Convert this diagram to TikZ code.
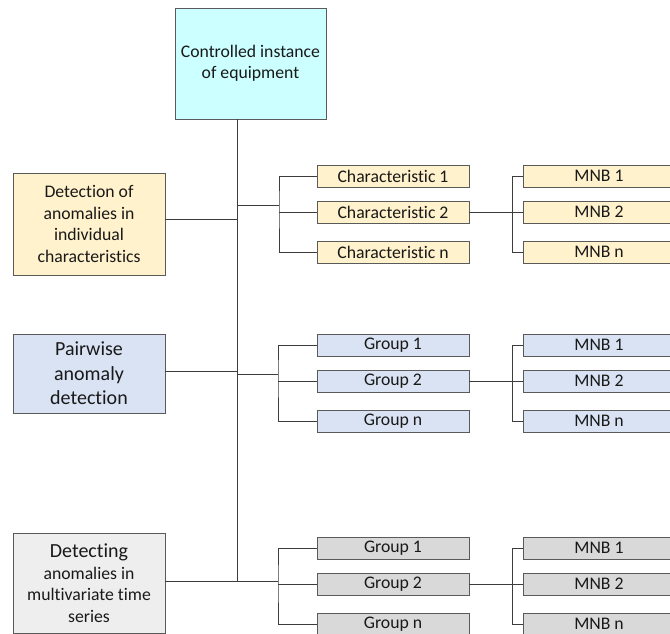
\documentclass[tikz,border=0pt]{standalone}
\usepackage{fontspec}
\setmainfont{Carlito}[Ligatures=NoCommon]
\usetikzlibrary{calc}

\definecolor{clrtop}{HTML}{CCFFFF}
\definecolor{clrchar}{HTML}{FFF2CC}
\definecolor{clrpair}{HTML}{DAE3F3}
\definecolor{clrmulti}{HTML}{EEEEEE}
\definecolor{clrgrp}{HTML}{D9D9D9}
\definecolor{clredge}{HTML}{5A5A5A}
\definecolor{clrwire}{HTML}{3C3C3C}

\def\boxfont{\fontsize{17.7}{21.5}\selectfont}
\def\bigfont{\fontsize{20}{24.5}\selectfont}

\begin{document}
\begin{tikzpicture}[x=1pt,y=-1pt,
  box/.style={draw=clredge, line width=0.9pt, inner sep=0pt, align=center,
    text=black!90, font=\boxfont},
  small/.style={box, minimum width=152pt, minimum height=22pt},
  wire/.style={draw=clrwire, line width=0.8pt}]

    \useasboundingbox (0,0) rectangle (670,634);
    \clip (0,0) rectangle (670,634);

    \node[box, fill=clrtop, minimum width=151pt, minimum height=111pt] (top) at (250.5,63.5)
      {Controlled instance\\of equipment};

    \node[box, fill=clrchar, minimum width=152pt, minimum height=102pt] (d1) at (89,224)
      {Detection of\\anomalies in\\individual\\characteristics};
    \node[box, fill=clrpair, minimum width=152pt, minimum height=79pt, font=\bigfont] (d2) at (89,373.5)
      {Pairwise\\anomaly\\detection};
    \node[box, fill=clrmulti, minimum width=152pt, minimum height=100pt] (d3) at (89,583)
      {{\bigfont Detecting}\\anomalies in\\multivariate time\\series};

    \foreach \set/\y/\lab/\clr in {c/176/Characteristic/clrchar, g/345/Group/clrpair, h/548/Group/clrgrp}{
      \foreach \i/\dy in {1/0, 2/36, n/76}{
        \node[small, fill=\clr] (\set\i) at (393,\y+\dy) {\lab\ \i};
        \node[small, fill=\clr] (m\set\i) at (599,\y+\dy) {MNB \i};
      }
    }

    \coordinate (trunk) at (237,581);
    \draw[wire] (trunk |- top.south) -- (trunk);

    \foreach \set/\d/\yj/\yk/\xb in {c/d1/219/205/279, g/d2/371/374/278, h/d3/581/581/278}{
      \coordinate (j\set) at (237,\yj);
      \coordinate (k\set) at (237,\yk);
      \coordinate (b\set) at (\xb,\yk);
      \draw[wire] (\d.east |- j\set) -- (j\set);
      \draw[wire] (k\set) -- (b\set);
      \draw[wire] (\set1.west) -| (b\set) |- (\set n.west);
      \draw[wire] (b\set |- \set2.west) -- (\set2.west);
      \draw[wire] (\set2.east) -- (m\set2.west);
      \draw[wire] (m\set1.west) -- ++(-10,0) |- (m\set n.west);
    }

\end{tikzpicture}
\end{document}
